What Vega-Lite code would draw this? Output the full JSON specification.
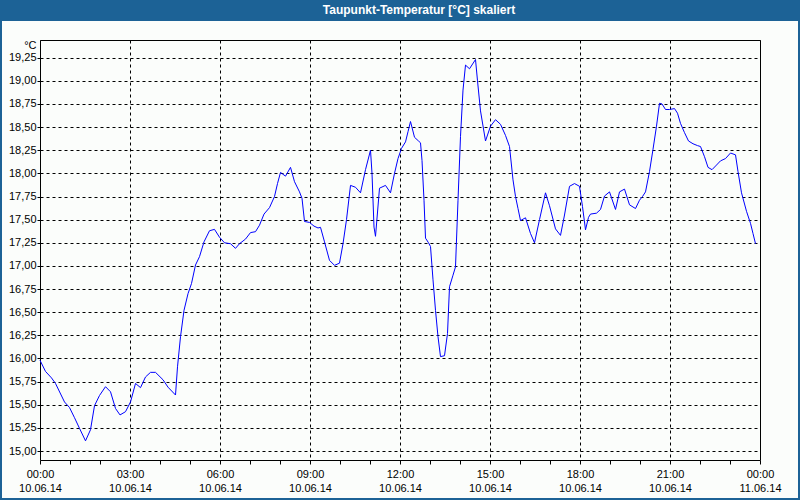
{
  "$schema": "https://vega.github.io/schema/vega-lite/v6.json",
  "width": 720,
  "height": 420,
  "autosize": {"type": "none"},
  "padding": {"left": 40, "top": 40, "right": 40, "bottom": 40},
  "background": "#fbfdfb",
  "config": {
    "locale": {"number": {"decimal": ",", "thousands": ".", "grouping": [3], "currency": ["", " €"]}},
    "view": {"stroke": "#000000", "strokeWidth": 1},
    "font": "Liberation Sans"
  },
  "resolve": {"scale": {"x": "independent", "y": "independent"}},
  "layer": [
    {
      "data": {
        "values": [
          {"t": "2014-06-10 00:00", "v": 15.98},
          {"t": "2014-06-10 00:11", "v": 15.86},
          {"t": "2014-06-10 00:23", "v": 15.79},
          {"t": "2014-06-10 00:31", "v": 15.73},
          {"t": "2014-06-10 00:49", "v": 15.53},
          {"t": "2014-06-10 00:59", "v": 15.47},
          {"t": "2014-06-10 01:09", "v": 15.36},
          {"t": "2014-06-10 01:19", "v": 15.245},
          {"t": "2014-06-10 01:31", "v": 15.11},
          {"t": "2014-06-10 01:41", "v": 15.23},
          {"t": "2014-06-10 01:49", "v": 15.49},
          {"t": "2014-06-10 01:59", "v": 15.6},
          {"t": "2014-06-10 02:11", "v": 15.695},
          {"t": "2014-06-10 02:21", "v": 15.64},
          {"t": "2014-06-10 02:31", "v": 15.46},
          {"t": "2014-06-10 02:40", "v": 15.39},
          {"t": "2014-06-10 02:51", "v": 15.425},
          {"t": "2014-06-10 03:01", "v": 15.53},
          {"t": "2014-06-10 03:11", "v": 15.73},
          {"t": "2014-06-10 03:21", "v": 15.685},
          {"t": "2014-06-10 03:31", "v": 15.8},
          {"t": "2014-06-10 03:41", "v": 15.85},
          {"t": "2014-06-10 03:51", "v": 15.85},
          {"t": "2014-06-10 04:06", "v": 15.77},
          {"t": "2014-06-10 04:16", "v": 15.69},
          {"t": "2014-06-10 04:31", "v": 15.605},
          {"t": "2014-06-10 04:35", "v": 15.91},
          {"t": "2014-06-10 04:41", "v": 16.235},
          {"t": "2014-06-10 04:48", "v": 16.52},
          {"t": "2014-06-10 04:56", "v": 16.7},
          {"t": "2014-06-10 05:03", "v": 16.81},
          {"t": "2014-06-10 05:11", "v": 17.01},
          {"t": "2014-06-10 05:19", "v": 17.1},
          {"t": "2014-06-10 05:28", "v": 17.26},
          {"t": "2014-06-10 05:39", "v": 17.38},
          {"t": "2014-06-10 05:49", "v": 17.395},
          {"t": "2014-06-10 05:59", "v": 17.31},
          {"t": "2014-06-10 06:09", "v": 17.25},
          {"t": "2014-06-10 06:21", "v": 17.24},
          {"t": "2014-06-10 06:31", "v": 17.19},
          {"t": "2014-06-10 06:39", "v": 17.24},
          {"t": "2014-06-10 06:51", "v": 17.29},
          {"t": "2014-06-10 07:01", "v": 17.36},
          {"t": "2014-06-10 07:11", "v": 17.37},
          {"t": "2014-06-10 07:19", "v": 17.44},
          {"t": "2014-06-10 07:28", "v": 17.56},
          {"t": "2014-06-10 07:39", "v": 17.63},
          {"t": "2014-06-10 07:49", "v": 17.75},
          {"t": "2014-06-10 07:55", "v": 17.89},
          {"t": "2014-06-10 08:01", "v": 18.01},
          {"t": "2014-06-10 08:11", "v": 17.97},
          {"t": "2014-06-10 08:21", "v": 18.065},
          {"t": "2014-06-10 08:29", "v": 17.91},
          {"t": "2014-06-10 08:39", "v": 17.8},
          {"t": "2014-06-10 08:44", "v": 17.73},
          {"t": "2014-06-10 08:49", "v": 17.48},
          {"t": "2014-06-10 08:59", "v": 17.47},
          {"t": "2014-06-10 09:08", "v": 17.43},
          {"t": "2014-06-10 09:16", "v": 17.41},
          {"t": "2014-06-10 09:21", "v": 17.417},
          {"t": "2014-06-10 09:29", "v": 17.26},
          {"t": "2014-06-10 09:39", "v": 17.06},
          {"t": "2014-06-10 09:49", "v": 17.006},
          {"t": "2014-06-10 09:59", "v": 17.03},
          {"t": "2014-06-10 10:06", "v": 17.24},
          {"t": "2014-06-10 10:13", "v": 17.5},
          {"t": "2014-06-10 10:21", "v": 17.87},
          {"t": "2014-06-10 10:31", "v": 17.85},
          {"t": "2014-06-10 10:41", "v": 17.79},
          {"t": "2014-06-10 10:51", "v": 18.04},
          {"t": "2014-06-10 11:01", "v": 18.25},
          {"t": "2014-06-10 11:04", "v": 18.0},
          {"t": "2014-06-10 11:08", "v": 17.42},
          {"t": "2014-06-10 11:11", "v": 17.32},
          {"t": "2014-06-10 11:19", "v": 17.84},
          {"t": "2014-06-10 11:31", "v": 17.87},
          {"t": "2014-06-10 11:41", "v": 17.79},
          {"t": "2014-06-10 11:49", "v": 18.0},
          {"t": "2014-06-10 11:56", "v": 18.16},
          {"t": "2014-06-10 12:03", "v": 18.27},
          {"t": "2014-06-10 12:11", "v": 18.34},
          {"t": "2014-06-10 12:16", "v": 18.45},
          {"t": "2014-06-10 12:21", "v": 18.56},
          {"t": "2014-06-10 12:29", "v": 18.39},
          {"t": "2014-06-10 12:37", "v": 18.35},
          {"t": "2014-06-10 12:41", "v": 18.33},
          {"t": "2014-06-10 12:44", "v": 18.14},
          {"t": "2014-06-10 12:48", "v": 17.71},
          {"t": "2014-06-10 12:51", "v": 17.3},
          {"t": "2014-06-10 12:57", "v": 17.25},
          {"t": "2014-06-10 13:01", "v": 17.21},
          {"t": "2014-06-10 13:06", "v": 16.85},
          {"t": "2014-06-10 13:11", "v": 16.52},
          {"t": "2014-06-10 13:16", "v": 16.235},
          {"t": "2014-06-10 13:21", "v": 16.02},
          {"t": "2014-06-10 13:29", "v": 16.03},
          {"t": "2014-06-10 13:35", "v": 16.27},
          {"t": "2014-06-10 13:39", "v": 16.775},
          {"t": "2014-06-10 13:46", "v": 16.9},
          {"t": "2014-06-10 13:51", "v": 16.99},
          {"t": "2014-06-10 13:56", "v": 17.71},
          {"t": "2014-06-10 14:01", "v": 18.4},
          {"t": "2014-06-10 14:06", "v": 18.9},
          {"t": "2014-06-10 14:11", "v": 19.17},
          {"t": "2014-06-10 14:19", "v": 19.13},
          {"t": "2014-06-10 14:31", "v": 19.23},
          {"t": "2014-06-10 14:35", "v": 19.0},
          {"t": "2014-06-10 14:41", "v": 18.675},
          {"t": "2014-06-10 14:51", "v": 18.35},
          {"t": "2014-06-10 15:01", "v": 18.51},
          {"t": "2014-06-10 15:11", "v": 18.58},
          {"t": "2014-06-10 15:21", "v": 18.53},
          {"t": "2014-06-10 15:31", "v": 18.41},
          {"t": "2014-06-10 15:39", "v": 18.29},
          {"t": "2014-06-10 15:46", "v": 17.93},
          {"t": "2014-06-10 15:51", "v": 17.75},
          {"t": "2014-06-10 15:56", "v": 17.62},
          {"t": "2014-06-10 16:01", "v": 17.49},
          {"t": "2014-06-10 16:11", "v": 17.52},
          {"t": "2014-06-10 16:21", "v": 17.35},
          {"t": "2014-06-10 16:29", "v": 17.25},
          {"t": "2014-06-10 16:39", "v": 17.5},
          {"t": "2014-06-10 16:51", "v": 17.79},
          {"t": "2014-06-10 16:59", "v": 17.65},
          {"t": "2014-06-10 17:11", "v": 17.4},
          {"t": "2014-06-10 17:21", "v": 17.33},
          {"t": "2014-06-10 17:29", "v": 17.55},
          {"t": "2014-06-10 17:39", "v": 17.86},
          {"t": "2014-06-10 17:49", "v": 17.89},
          {"t": "2014-06-10 17:59", "v": 17.86},
          {"t": "2014-06-10 18:05", "v": 17.64},
          {"t": "2014-06-10 18:11", "v": 17.39},
          {"t": "2014-06-10 18:17", "v": 17.525},
          {"t": "2014-06-10 18:21", "v": 17.56},
          {"t": "2014-06-10 18:33", "v": 17.57},
          {"t": "2014-06-10 18:41", "v": 17.61},
          {"t": "2014-06-10 18:49", "v": 17.755},
          {"t": "2014-06-10 18:59", "v": 17.8},
          {"t": "2014-06-10 19:11", "v": 17.61},
          {"t": "2014-06-10 19:19", "v": 17.8},
          {"t": "2014-06-10 19:29", "v": 17.83},
          {"t": "2014-06-10 19:39", "v": 17.66},
          {"t": "2014-06-10 19:51", "v": 17.62},
          {"t": "2014-06-10 19:59", "v": 17.71},
          {"t": "2014-06-10 20:05", "v": 17.75},
          {"t": "2014-06-10 20:11", "v": 17.8},
          {"t": "2014-06-10 20:19", "v": 18.02},
          {"t": "2014-06-10 20:26", "v": 18.26},
          {"t": "2014-06-10 20:33", "v": 18.51},
          {"t": "2014-06-10 20:39", "v": 18.757},
          {"t": "2014-06-10 20:44", "v": 18.75},
          {"t": "2014-06-10 20:51", "v": 18.69},
          {"t": "2014-06-10 20:59", "v": 18.69},
          {"t": "2014-06-10 21:09", "v": 18.7},
          {"t": "2014-06-10 21:15", "v": 18.65},
          {"t": "2014-06-10 21:21", "v": 18.54},
          {"t": "2014-06-10 21:29", "v": 18.44},
          {"t": "2014-06-10 21:37", "v": 18.35},
          {"t": "2014-06-10 21:46", "v": 18.32},
          {"t": "2014-06-10 21:55", "v": 18.3},
          {"t": "2014-06-10 22:01", "v": 18.29},
          {"t": "2014-06-10 22:09", "v": 18.18},
          {"t": "2014-06-10 22:16", "v": 18.065},
          {"t": "2014-06-10 22:24", "v": 18.04},
          {"t": "2014-06-10 22:33", "v": 18.09},
          {"t": "2014-06-10 22:41", "v": 18.135},
          {"t": "2014-06-10 22:51", "v": 18.16},
          {"t": "2014-06-10 23:01", "v": 18.22},
          {"t": "2014-06-10 23:11", "v": 18.2},
          {"t": "2014-06-10 23:16", "v": 18.02},
          {"t": "2014-06-10 23:23", "v": 17.79},
          {"t": "2014-06-10 23:33", "v": 17.59},
          {"t": "2014-06-10 23:41", "v": 17.46},
          {"t": "2014-06-10 23:46", "v": 17.35},
          {"t": "2014-06-10 23:51", "v": 17.24}
        ],
        "format": {"parse": {"t": "utc:'%Y-%m-%d %H:%M'"}}
      },
      "mark": {"type": "line", "color": "#0000ff", "strokeWidth": 1, "interpolate": "linear"},
      "encoding": {
        "x": {
          "field": "t",
          "type": "temporal",
          "title": null,
          "scale": {
            "type": "utc",
            "domain": [
              {"year": 2014, "month": 6, "date": 10, "hours": 0, "utc": true},
              {"year": 2014, "month": 6, "date": 11, "hours": 0, "utc": true}
            ],
            "nice": false
          },
          "axis": {
            "title": null,
            "values": [
              {"year": 2014, "month": 6, "date": 10, "hours": 0, "utc": true},
              {"year": 2014, "month": 6, "date": 10, "hours": 1, "utc": true},
              {"year": 2014, "month": 6, "date": 10, "hours": 2, "utc": true},
              {"year": 2014, "month": 6, "date": 10, "hours": 3, "utc": true},
              {"year": 2014, "month": 6, "date": 10, "hours": 4, "utc": true},
              {"year": 2014, "month": 6, "date": 10, "hours": 5, "utc": true},
              {"year": 2014, "month": 6, "date": 10, "hours": 6, "utc": true},
              {"year": 2014, "month": 6, "date": 10, "hours": 7, "utc": true},
              {"year": 2014, "month": 6, "date": 10, "hours": 8, "utc": true},
              {"year": 2014, "month": 6, "date": 10, "hours": 9, "utc": true},
              {"year": 2014, "month": 6, "date": 10, "hours": 10, "utc": true},
              {"year": 2014, "month": 6, "date": 10, "hours": 11, "utc": true},
              {"year": 2014, "month": 6, "date": 10, "hours": 12, "utc": true},
              {"year": 2014, "month": 6, "date": 10, "hours": 13, "utc": true},
              {"year": 2014, "month": 6, "date": 10, "hours": 14, "utc": true},
              {"year": 2014, "month": 6, "date": 10, "hours": 15, "utc": true},
              {"year": 2014, "month": 6, "date": 10, "hours": 16, "utc": true},
              {"year": 2014, "month": 6, "date": 10, "hours": 17, "utc": true},
              {"year": 2014, "month": 6, "date": 10, "hours": 18, "utc": true},
              {"year": 2014, "month": 6, "date": 10, "hours": 19, "utc": true},
              {"year": 2014, "month": 6, "date": 10, "hours": 20, "utc": true},
              {"year": 2014, "month": 6, "date": 10, "hours": 21, "utc": true},
              {"year": 2014, "month": 6, "date": 10, "hours": 22, "utc": true},
              {"year": 2014, "month": 6, "date": 10, "hours": 23, "utc": true},
              {"year": 2014, "month": 6, "date": 11, "hours": 0, "utc": true}
            ],
            "labelExpr": "utchours(datum.value) % 3 == 0 ? [utcFormat(datum.value, '%H:%M'), utcFormat(datum.value, '%d.%m.%y')] : ''",
            "labelOverlap": false,
            "labelFlush": false,
            "labelFont": "Liberation Sans",
            "labelFontSize": 11,
            "labelColor": "#000000",
            "labelLineHeight": 14,
            "labelPadding": 4,
            "labelBaseline": "top",
            "tickSize": 4,
            "tickColor": "#000000",
            "domain": false,
            "grid": true,
            "gridColor": "#000000",
            "gridDash": [3, 3],
            "gridOpacity": {"condition": {"test": "utchours(datum.value) % 3 == 0", "value": 1}, "value": 0}
          }
        },
        "y": {
          "field": "v",
          "type": "quantitative",
          "title": "°C",
          "scale": {"domain": [14.903, 19.441], "nice": false, "zero": false},
          "axis": {
            "titleAngle": 0,
            "titleX": -4,
            "titleY": 5,
            "titleAlign": "right",
            "titleBaseline": "middle",
            "titleFont": "Liberation Sans",
            "titleFontSize": 11,
            "titleFontWeight": "normal",
            "titleColor": "#000000",
            "values": [15, 15.25, 15.5, 15.75, 16, 16.25, 16.5, 16.75, 17, 17.25, 17.5, 17.75, 18, 18.25, 18.5, 18.75, 19, 19.25],
            "format": ".2f",
            "labelFont": "Liberation Sans",
            "labelFontSize": 11,
            "labelColor": "#000000",
            "labelPadding": 1,
            "labelFlush": false,
            "labelOverlap": false,
            "tickSize": 3,
            "tickColor": "#000000",
            "domain": false,
            "grid": true,
            "gridColor": "#000000",
            "gridDash": [3, 3]
          }
        }
      }
    },
    {
      "data": {"values": [{}]},
      "mark": {"type": "rect", "color": "#1c6296"},
      "encoding": {
        "x": {"datum": {"year": 2014, "month": 6, "date": 9, "hours": 22, "minutes": 40, "utc": true}, "type": "temporal", "axis": null,
          "scale": {"type": "utc", "domain": [{"year": 2014, "month": 6, "date": 10, "hours": 0, "utc": true}, {"year": 2014, "month": 6, "date": 11, "hours": 0, "utc": true}], "nice": false}},
        "x2": {"datum": {"year": 2014, "month": 6, "date": 11, "hours": 1, "minutes": 20, "utc": true}},
        "y": {"datum": 19.873, "type": "quantitative", "axis": null, "scale": {"domain": [14.903, 19.441], "nice": false, "zero": false}},
        "y2": {"datum": 19.646}
      }
    },
    {
      "data": {"values": [{}]},
      "mark": {"type": "rect", "filled": false, "stroke": "#1c6296", "strokeWidth": 2},
      "encoding": {
        "x": {"datum": {"year": 2014, "month": 6, "date": 9, "hours": 22, "minutes": 42, "utc": true}, "type": "temporal", "axis": null,
          "scale": {"type": "utc", "domain": [{"year": 2014, "month": 6, "date": 10, "hours": 0, "utc": true}, {"year": 2014, "month": 6, "date": 11, "hours": 0, "utc": true}], "nice": false}},
        "x2": {"datum": {"year": 2014, "month": 6, "date": 11, "hours": 1, "minutes": 18, "utc": true}},
        "y": {"datum": 19.862, "type": "quantitative", "axis": null, "scale": {"domain": [14.903, 19.441], "nice": false, "zero": false}},
        "y2": {"datum": 14.482}
      }
    },
    {
      "data": {"values": [{"label": "Taupunkt-Temperatur [°C] skaliert"}]},
      "mark": {"type": "text", "color": "#ffffff", "font": "Liberation Sans", "fontSize": 12, "fontWeight": "bold", "align": "center", "baseline": "middle"},
      "encoding": {
        "text": {"field": "label"},
        "x": {"datum": {"year": 2014, "month": 6, "date": 10, "hours": 12, "minutes": 38, "utc": true}, "type": "temporal", "axis": null,
          "scale": {"type": "utc", "domain": [{"year": 2014, "month": 6, "date": 10, "hours": 0, "utc": true}, {"year": 2014, "month": 6, "date": 11, "hours": 0, "utc": true}], "nice": false}},
        "y": {"datum": 19.765, "type": "quantitative", "axis": null, "scale": {"domain": [14.903, 19.441], "nice": false, "zero": false}}
      }
    }
  ]
}
